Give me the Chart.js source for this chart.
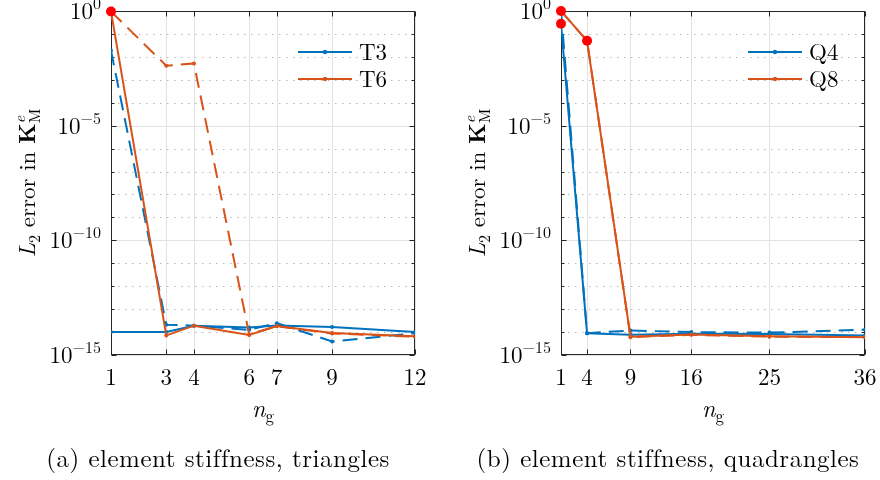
<!DOCTYPE html>
<html>
<head>
<meta charset="utf-8">
<script src="https://cdn.jsdelivr.net/npm/chart.js@4"></script>
<style>
  html, body { margin: 0; padding: 0; background: #fff; }
  #wrap { position: relative; width: 880px; height: 480px; }
  canvas { position: absolute; top: 0; }
</style>
</head>
<body>
<div id="wrap">
  <canvas id="triChart" width="440" height="480" style="left:0"></canvas>
  <canvas id="quadChart" width="440" height="480" style="left:440px"></canvas>
</div>
<script>
// (a) triangles
const triNg = [1, 3, 4, 6, 7, 9, 12];
const t3Solid = [1.0e-14, 1.0e-14, 1.9e-14, 1.6e-14, 1.95e-14, 1.65e-14, 1.0e-14];
const t3Dashed = [1.9e-2, 2.1e-14, 1.9e-14, 1.25e-14, 2.45e-14, 3.9e-15, 8.9e-15];
const t6Solid = [0.95, 7.1e-15, 1.9e-14, 7.4e-15, 1.85e-14, 9.1e-15, 6.6e-15];
const t6Dashed = [0.95, 4.1e-3, 5.2e-3, 7.9e-15, 1.8e-14, 8.7e-15, 6.3e-15];
const triRedNg = [1];
const triRedVal = [0.95];

// (b) quadrangles
const quadNg = [1, 4, 9, 16, 25, 36];
const q4Solid = [0.28, 8.9e-15, 7.6e-15, 8.5e-15, 8.3e-15, 7.1e-15];
const q4Dashed = [1.0, 8.9e-15, 1.17e-14, 1.0e-14, 9.5e-15, 1.26e-14];
const q8Solid = [1.0, 0.05, 6.3e-15, 7.9e-15, 6.6e-15, 6.0e-15];
const q8Dashed = [1.0, 0.05, 6.0e-15, 7.6e-15, 6.3e-15, 6.0e-15];
const quadRedNg = [1, 1, 4];
const quadRedVal = [1.0, 0.28, 0.05];

const yMajorExps = [0, -5, -10, -15];

const SERIF = '"Latin Modern Roman", "CMU Serif", "Liberation Serif", serif';
const BLUE = '#0072BD';
const ORANGE = '#D95319';
const AXIS = '#262626';

function pts(xs, ys) {
  return xs.map((x, i) => ({ x, y: ys[i] }));
}

function series(xs, ys, color, dashed, order) {
  return {
    data: pts(xs, ys),
    borderColor: color,
    backgroundColor: color,
    borderWidth: 2,
    borderDash: dashed ? [15, 8] : [],
    pointRadius: 2,
    pointBorderWidth: 0,
    pointBackgroundColor: color,
    tension: 0,
    order
  };
}

function redDots(xs, ys) {
  return {
    data: pts(xs, ys),
    showLine: false,
    pointRadius: 5,
    pointBorderWidth: 0,
    pointBackgroundColor: '#ff0000',
    clip: false,
    order: 0
  };
}

// text runs, for the sub/superscripts
function runFont(r, base) {
  const size = r.small ? Math.round(base * 0.7) : base;
  return (r.italic ? 'italic ' : '') + (r.bold ? 'bold ' : '') + size + 'px ' + SERIF;
}
function runsWidth(ctx, runs, base) {
  let w = 0;
  runs.forEach(r => {
    if (r.noAdvance) return;
    ctx.font = runFont(r, base);
    w += ctx.measureText(r.t).width;
  });
  return w;
}
function drawRuns(ctx, runs, x, y, align, base) {
  const w = runsWidth(ctx, runs, base);
  let cx = align === 'right' ? x - w : align === 'center' ? x - w / 2 : x;
  ctx.textBaseline = 'alphabetic';
  ctx.textAlign = 'left';
  runs.forEach(r => {
    ctx.font = runFont(r, base);
    ctx.fillText(r.t, cx, y + (r.dy || 0));
    if (!r.noAdvance) cx += ctx.measureText(r.t).width;
  });
}

const matlabAxes = {
  id: 'matlabAxes',
  beforeDatasetsDraw(chart, args, opts) {
    const { ctx, chartArea: a, scales: { x, y } } = chart;
    ctx.save();
    ctx.lineWidth = 1;
    // vertical grid
    ctx.strokeStyle = '#e2e2e2';
    opts.xTicks.forEach(v => {
      const px = Math.round(x.getPixelForValue(v)) + 0.5;
      ctx.beginPath(); ctx.moveTo(px, a.top); ctx.lineTo(px, a.bottom); ctx.stroke();
    });
    // horizontal grid: solid at majors, dotted at every decade
    for (let e = 0; e >= -15; e--) {
      const py = Math.round(y.getPixelForValue(Math.pow(10, e))) + 0.5;
      if (yMajorExps.includes(e)) {
        ctx.setLineDash([]);
        ctx.strokeStyle = '#e2e2e2';
      } else {
        ctx.setLineDash([1.5, 5.5]);
        ctx.strokeStyle = '#b8b8b8';
      }
      ctx.beginPath(); ctx.moveTo(a.left, py); ctx.lineTo(a.right, py); ctx.stroke();
    }
    ctx.setLineDash([]);
    // box + inward ticks
    ctx.strokeStyle = AXIS;
    const l = Math.round(a.left) + 0.5, r = Math.round(a.right) - 0.5;
    const t = Math.round(a.top) + 0.5, b = Math.round(a.bottom) - 0.5;
    ctx.strokeRect(l, t, r - l, b - t);
    ctx.beginPath();
    for (let e = 0; e >= -15; e--) {
      const py = Math.round(y.getPixelForValue(Math.pow(10, e))) + 0.5;
      const len = yMajorExps.includes(e) ? 5 : 3;
      ctx.moveTo(l, py); ctx.lineTo(l + len, py);
      ctx.moveTo(r, py); ctx.lineTo(r - len, py);
    }
    opts.xTicks.forEach(v => {
      const px = Math.round(x.getPixelForValue(v)) + 0.5;
      ctx.moveTo(px, b); ctx.lineTo(px, b - 5);
      ctx.moveTo(px, t); ctx.lineTo(px, t + 5);
    });
    ctx.stroke();
    ctx.restore();
  },
  afterDraw(chart, args, opts) {
    const { ctx, chartArea: a, scales: { x, y } } = chart;
    const fs = 23;
    ctx.save();
    ctx.fillStyle = '#000';
    // y tick labels 10^e
    yMajorExps.forEach(e => {
      const py = y.getPixelForValue(Math.pow(10, e));
      const ex = e === 0 ? '0' : '\u2212' + Math.abs(e);
      drawRuns(ctx, [{ t: '10' }, { t: ex, small: true, dy: -10 }], a.left - 10, py + 8, 'right', fs);
    });
    // x tick labels
    opts.xTicks.forEach(v => {
      drawRuns(ctx, [{ t: String(v) }], x.getPixelForValue(v), 385, 'center', fs);
    });
    // x title n_g
    const midX = (a.left + a.right) / 2;
    drawRuns(ctx, [{ t: 'n', italic: true }, { t: 'g', small: true, dy: 5 }], midX, 417, 'center', 24);
    // y title
    ctx.save();
    ctx.translate(a.left - 76, (a.top + a.bottom) / 2);
    ctx.rotate(-Math.PI / 2);
    drawRuns(ctx, [
      { t: 'L', italic: true }, { t: '2', small: true, dy: 5 },
      { t: ' error in ' },
      { t: 'K', bold: true }, { t: 'e', italic: true, small: true, dy: -10, noAdvance: true },
      { t: 'M', small: true, dy: 5 }
    ], 0, 0, 'center', fs);
    ctx.restore();
    // legend
    opts.legend.forEach((item, i) => {
      const ly = 52 + i * 27;
      const x0 = a.right - 117, x1 = a.right - 63;
      ctx.strokeStyle = item.color;
      ctx.lineWidth = 2;
      ctx.beginPath(); ctx.moveTo(x0, ly); ctx.lineTo(x1, ly); ctx.stroke();
      ctx.fillStyle = item.color;
      ctx.beginPath(); ctx.arc((x0 + x1) / 2, ly, 2.2, 0, Math.PI * 2); ctx.fill();
      ctx.fillStyle = '#000';
      drawRuns(ctx, [{ t: item.label }], a.right - 56, ly + 8, 'left', fs);
    });
    // caption
    ctx.letterSpacing = '0.5px';
    drawRuns(ctx, [{ t: opts.caption }], opts.captionX, 467, 'center', 25);
    ctx.restore();
  }
};

function makeChart(id, datasets, xMax, padLeft, padRight, extra) {
  return new Chart(document.getElementById(id), {
    type: 'line',
    data: { datasets },
    options: {
      responsive: false,
      animation: false,
      devicePixelRatio: 1,
      layout: { padding: { left: padLeft, right: padRight, top: 11, bottom: 125 } },
      scales: {
        x: { type: 'linear', min: 1, max: xMax, display: false },
        y: { type: 'logarithmic', min: 1e-15, max: 1, display: false }
      },
      plugins: {
        legend: { display: false },
        tooltip: { enabled: false },
        matlabAxes: extra
      }
    },
    plugins: [matlabAxes]
  });
}

makeChart('triChart', [
  redDots(triRedNg, triRedVal),
  series(triNg, t6Dashed, ORANGE, true, 1),
  series(triNg, t6Solid, ORANGE, false, 2),
  series(triNg, t3Dashed, BLUE, true, 3),
  series(triNg, t3Solid, BLUE, false, 4)
], 12, 111, 25, {
  xTicks: triNg,
  legend: [{ label: 'T3', color: BLUE }, { label: 'T6', color: ORANGE }],
  caption: '(a) element stiffness, triangles',
  captionX: 218
});

makeChart('quadChart', [
  redDots(quadRedNg, quadRedVal),
  series(quadNg, q8Dashed, ORANGE, true, 1),
  series(quadNg, q8Solid, ORANGE, false, 2),
  series(quadNg, q4Dashed, BLUE, true, 3),
  series(quadNg, q4Solid, BLUE, false, 4)
], 36, 121, 15, {
  xTicks: quadNg,
  legend: [{ label: 'Q4', color: BLUE }, { label: 'Q8', color: ORANGE }],
  caption: '(b) element stiffness, quadrangles',
  captionX: 228
});
</script>
</body>
</html>
